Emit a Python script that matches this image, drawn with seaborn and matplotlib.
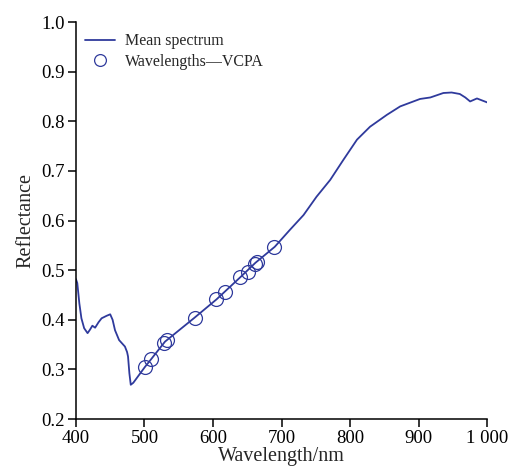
import matplotlib
matplotlib.use("Agg")
import matplotlib.pyplot as plt
import seaborn as sns
import pandas as pd

# mean reflectance spectrum
wavelength = [400, 402, 405, 408, 412, 417, 420.5, 424, 428, 433, 437.5, 444.8, 450,
              453.5, 457, 463, 471.5, 474.6, 476, 478, 480, 483.7, 500.7, 510, 530,
              572, 605, 640, 662, 690, 712, 732, 751, 771, 790, 810, 829, 853.6, 873,
              902, 917, 936, 948, 960, 968, 975, 985, 1000]
reflectance = [0.482, 0.474, 0.433, 0.403, 0.383, 0.373, 0.380, 0.388, 0.384, 0.395,
               0.403, 0.408, 0.411, 0.400, 0.379, 0.359, 0.346, 0.335, 0.326, 0.292,
               0.269, 0.273, 0.305, 0.321, 0.356, 0.403, 0.441, 0.486, 0.515, 0.547,
               0.581, 0.611, 0.648, 0.682, 0.722, 0.763, 0.789, 0.813, 0.830, 0.845,
               0.848, 0.857, 0.858, 0.855, 0.848, 0.840, 0.846, 0.838]

# wavelengths selected by VCPA
vcpa_wl = [501, 509, 528, 533, 573, 605, 618, 640, 651, 661, 664, 689]
vcpa_refl = [0.305, 0.321, 0.353, 0.359, 0.403, 0.441, 0.455, 0.486, 0.497, 0.513, 0.517, 0.546]

xticks = [400, 500, 600, 700, 800, 900, 1000]
xtick_labels = ["400", "500", "600", "700", "800", "900", "1 000"]
yticks = [0.2, 0.3, 0.4, 0.5, 0.6, 0.7, 0.8, 0.9, 1.0]

color = "#2f3a9c"

sns.set_theme(style="ticks")
plt.rcParams["font.family"] = ["Liberation Serif", "DejaVu Serif"]

df = pd.DataFrame({"wl": wavelength, "r": reflectance})
df_v = pd.DataFrame({"wl": vcpa_wl, "r": vcpa_refl})

fig = plt.figure(figsize=(5.2, 4.69), dpi=100)
ax = fig.add_axes([0.146, 0.1066, 0.791, 0.8464])

sns.lineplot(data=df, x="wl", y="r", ax=ax, color=color, linewidth=1.3,
             label="Mean spectrum", sort=False)
ax.plot(df_v["wl"], df_v["r"], linestyle="none", marker="o", markersize=10,
        markerfacecolor="none", markeredgecolor=color, markeredgewidth=0.9,
        label="Wavelengths\u2014VCPA")

ax.set_xlim(400, 1000)
ax.set_ylim(0.2, 1.0)
ax.set_xticks(xticks)
ax.set_xticklabels(xtick_labels)
ax.set_yticks(yticks)
ax.set_yticklabels([f"{v:.1f}" for v in yticks])
ax.tick_params(labelsize=13.5, length=6, width=1.1, colors="black", pad=2)
ax.set_xlabel("Wavelength/nm", fontsize=14.5, labelpad=0)
ax.set_ylabel("Reflectance", fontsize=14.5, labelpad=4)

for side in ["top", "right"]:
    ax.spines[side].set_visible(False)
for side in ["left", "bottom"]:
    ax.spines[side].set_linewidth(1.1)
    ax.spines[side].set_color("black")

leg = ax.legend(loc="upper left", frameon=False, fontsize=11.5, handlelength=1.9,
                handletextpad=0.6, borderaxespad=0.3, labelspacing=0.3,
                bbox_to_anchor=(-0.005, 1.0), markerscale=0.85)

fig.savefig("out.png", dpi=100)
